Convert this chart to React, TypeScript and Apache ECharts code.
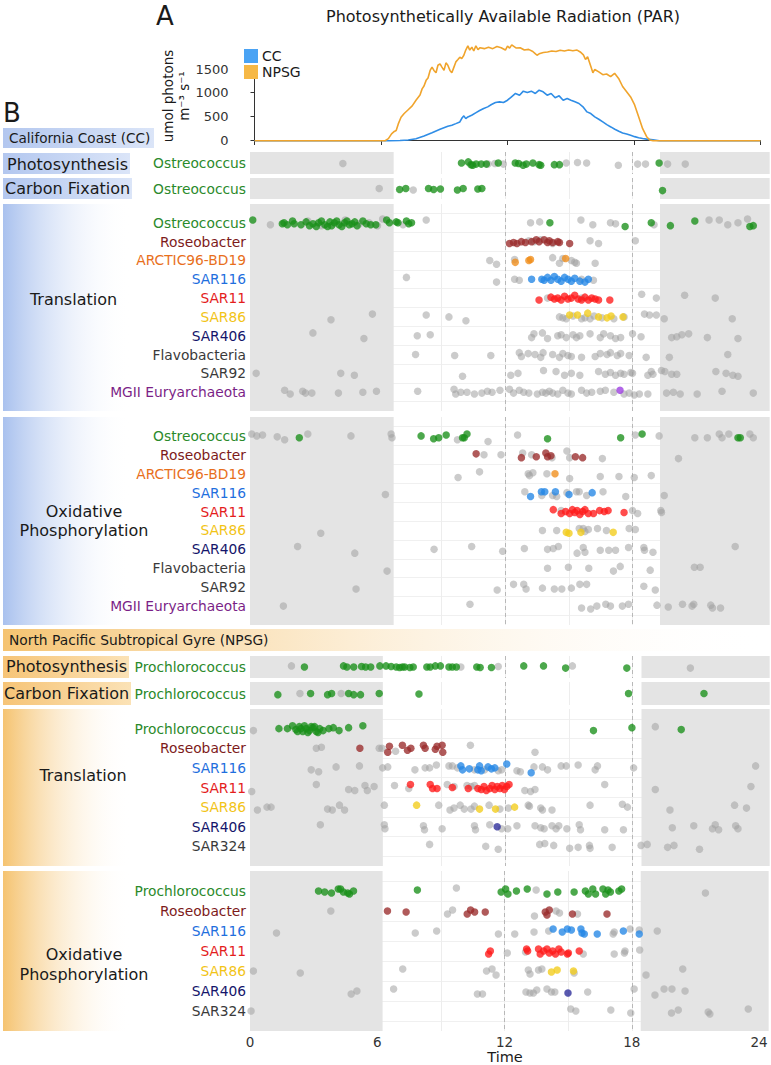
import React, { useEffect, useRef } from 'react';
import * as echarts from 'echarts';

const FONT = 'DejaVu Sans';

// ---------- PAR (hour, umol photons m-3 s-1) ----------
const parCC: number[][] = [[0,-15],[6.4,-15],[6.9,-10],[7.29,0],[7.66,28],[8.04,85],[8.42,155],[8.8,226],[9.17,290],[9.36,311],[9.55,346],[9.74,382],[9.85,470],[9.93,509],[10.02,452],[10.12,488],[10.3,523],[10.49,573],[10.68,622],[10.87,665],[11.06,700],[11.24,749],[11.43,792],[11.62,806],[11.81,792],[12.0,841],[12.19,912],[12.38,983],[12.57,947],[12.75,1032],[12.94,1004],[13.13,1032],[13.32,983],[13.5,1053],[13.69,1018],[13.88,947],[14.07,983],[14.26,891],[14.45,933],[14.64,841],[14.83,877],[15.01,841],[15.2,806],[15.39,771],[15.58,700],[15.77,594],[15.95,559],[16.14,488],[16.33,438],[16.52,382],[16.71,325],[16.9,276],[17.09,226],[17.28,184],[17.46,148],[17.65,127],[17.84,99],[18.03,71],[18.22,48],[18.41,32],[18.6,18],[18.9,5],[19.2,-15],[24,-15]];
const parNPSG: number[][] = [[0,-15],[6.2,-15],[6.35,30],[6.5,130],[6.63,180],[6.72,200],[6.82,340],[6.95,480],[7.1,560],[7.29,640],[7.48,720],[7.66,840],[7.85,950],[7.95,1080],[8.04,1140],[8.14,1260],[8.23,1310],[8.33,1470],[8.42,1540],[8.51,1470],[8.61,1420],[8.7,1580],[8.8,1610],[8.89,1540],[8.99,1470],[9.08,1630],[9.17,1580],[9.27,1470],[9.36,1420],[9.46,1540],[9.55,1650],[9.65,1700],[9.74,1750],[9.83,1720],[9.93,1790],[10.02,1900],[10.12,1990],[10.21,1900],[10.31,1960],[10.4,1880],[10.5,1990],[10.6,1910],[10.7,1950],[10.9,1930],[11.1,1960],[11.3,1930],[11.5,1975],[11.7,1950],[11.9,1900],[12.0,1985],[12.1,1940],[12.2,2010],[12.4,1945],[12.6,1950],[12.8,1900],[13.0,1915],[13.2,1870],[13.3,1830],[13.4,1790],[13.5,1820],[13.7,1850],[13.9,1860],[14.1,1880],[14.3,1870],[14.5,1895],[14.7,1880],[14.9,1900],[15.1,1885],[15.3,1900],[15.45,1860],[15.6,1800],[15.7,1700],[15.8,1760],[15.95,1560],[16.05,1420],[16.14,1490],[16.33,1440],[16.52,1380],[16.7,1395],[16.89,1340],[17.08,1410],[17.27,1300],[17.46,1130],[17.65,1020],[17.84,910],[18.03,740],[18.22,490],[18.41,240],[18.6,70],[18.75,0],[18.9,-15],[24,-15]];

// ---------- row names ----------
const ccRows = ['Ostreococcus','Roseobacter','ARCTIC96-BD19','SAR116','SAR11','SAR86','SAR406','Flavobacteria','SAR92','MGII Euryarchaeota'];
const ccLabelColors = ['#2b8a2b','#7d1b1b','#e86f1c','#1f6fde','#e41d1d','#f2c417','#15156b','#3a3a3a','#3a3a3a','#7b1f87'];
const ccDotColors = ['#1a8f1a','#9a2b2b','#f08d1a','#2486e6','#ff1a1a','#f2cc1a','#2a2a8f','#777777','#777777','#9b3be0'];
const npsgRows = ['Prochlorococcus','Roseobacter','SAR116','SAR11','SAR86','SAR406','SAR324'];
const npsgLabelColors = ['#2b8a2b','#7d1b1b','#1f6fde','#e41d1d','#f2c417','#15156b','#3a3a3a'];
const npsgDotColors = ['#1a8f1a','#9a2b2b','#2486e6','#ff1a1a','#f2cc1a','#2a2a99','#777777'];

// ---------- CC single-row panels [hour, jitter] ----------
const ccPhotoColored = [[9.95,0],[10.27,-0.1],[10.4,0.15],[10.48,0.2],[10.64,0.1],[10.88,0.1],[11.12,0.1],[11.68,0],[12.48,0],[12.64,0.05],[12.85,0.2],[13.0,0.1],[13.31,0],[13.6,0.15],[13.68,0.2],[14.32,0.15],[14.56,0.15],[19.25,0]];
const ccPhotoGray = [[4.37,0.05],[11.2,0.1],[11.52,0.05],[11.92,0.1],[14.88,0],[15.41,-0.05],[15.84,0],[17.33,0.2],[18.24,0.1],[18.61,0.1],[19.65,0.1],[20.48,0.1]];
const ccCarbonColored = [[7.04,0.1],[7.33,0],[8.4,0],[8.64,0.1],[8.96,0.05],[9.76,0.15],[10.03,0],[10.72,0.05],[10.91,0],[19.41,0.2]];
const ccCarbonGray = [[6.08,0],[7.68,0.15]];

// ---------- CC multi-row panels [hour, row, jitter] ----------
const ccTransColored = [
[0.13,0,-0.15],[1.52,0,0.05],[1.6,0,0],[1.76,0,0.1],[2.0,0,-0.1],[2.08,0,0.05],[2.4,0,0.1],[2.64,0,-0.05],[2.8,0,0.15],[2.96,0,0.05],[3.12,0,0.2],[3.23,0,0],[3.36,0,-0.1],[3.52,0,0.1],[3.65,0,0.2],[3.76,0,-0.05],[3.84,0,0.15],[3.97,0,0],[4.08,0,-0.1],[4.19,0,0.1],[4.32,0,0.2],[4.45,0,0],[4.56,0,-0.1],[4.67,0,0.1],[4.8,0,0.05],[4.93,0,-0.05],[5.04,0,0.15],[5.31,0,-0.1],[5.47,0,0.05],[5.68,0,0.1],[5.92,0,0.1],[6.43,0,-0.15],[6.56,0,0],[6.88,0,-0.05],[6.96,0,0],[7.36,0,-0.1],[7.47,0,0.05],[7.6,0,0],[14.11,0,0],[17.65,0,0.2],[18.88,0,0],[19.78,0,0.15],[20.93,0,-0.1],[23.52,0,0.2],[23.68,0,0.15],
[12.21,1,0.1],[12.4,1,0.05],[12.56,1,0.1],[12.77,1,0],[12.96,1,0.05],[13.25,1,0],[13.47,1,-0.1],[13.6,1,0],[13.84,1,-0.1],[14.0,1,0.05],[14.08,1,-0.05],[14.24,1,0.05],[14.48,1,0],[14.56,1,0.05],[15.04,1,0.1],
[12.48,2,0.1],[13.12,2,0],[13.2,2,-0.05],[14.85,2,-0.1],
[13.25,3,0],[13.73,3,0],[13.84,3,0.05],[14.0,3,-0.1],[14.16,3,0.05],[14.32,3,-0.15],[14.48,3,0],[14.64,3,0.1],[14.8,3,-0.1],[14.96,3,0],[15.12,3,0.1],[15.28,3,-0.05],[15.52,3,0.1],[15.76,3,0.15],[15.92,3,0],
[13.6,4,0.1],[14.16,4,-0.05],[14.32,4,0.05],[14.48,4,0],[14.64,4,0.1],[14.8,4,-0.1],[14.96,4,0.05],[15.12,4,0],[15.28,4,-0.15],[15.44,4,0.05],[15.6,4,0.1],[15.76,4,-0.05],[15.92,4,0.1],[16.08,4,0],[16.24,4,0.05],[16.4,4,0.1],[16.93,4,0.1],
[15.04,5,-0.1],[15.41,5,-0.1],[15.89,5,-0.2],[16.4,5,0],[16.8,5,0.05],[16.99,5,-0.05],[17.55,5,0],
[17.41,9,-0.1]];
const ccTransGray = [
[0.96,0,0.1],[2.72,0,-0.1],[3.36,0,0.15],[4.48,0,-0.15],[5.15,0,0.05],[5.6,0,0],[6.0,0,0.15],[6.24,0,-0.2],[7.2,0,0.1],[8.29,0,-0.15],[13.2,0,0],[13.63,0,-0.05],[15.57,0,-0.15],[16.13,0,0.1],[16.96,0,0],[17.2,0,0.05],[19.01,0,0.1],[21.6,0,-0.15],[22.08,0,-0.15],[22.48,0,0.1],[22.96,0,0],[23.41,0,-0.2],
[13.12,1,-0.05],[13.36,1,0],[13.68,1,-0.1],[14.24,1,0.1],[16.0,1,-0.05],[16.4,1,0.1],[18.13,1,-0.05],
[11.28,2,0],[11.6,2,0.2],[12.45,2,-0.05],[14.24,2,-0.15],[14.56,2,0.15],[14.72,2,-0.1],[15.12,2,0],[15.28,2,0.1],[15.36,2,0.15],[16.24,2,0.15],
[7.36,3,-0.1],[11.6,3,0.15],[12.45,3,0],[12.67,3,0.05],[15.6,3,0],[16.16,3,0.05],
[14.0,4,0],[15.6,4,0],[18.43,4,-0.2],[19.12,4,0],[20.45,4,-0.15],[21.89,4,0],
[3.81,5,0.15],[5.76,5,-0.15],[8.29,5,-0.1],[9.36,5,0],[10.16,5,0.2],[14.56,5,0],[14.72,5,0.05],[14.88,5,0.1],[15.2,5,-0.05],[15.6,5,0.1],[15.76,5,0.05],[16.0,5,0.1],[16.19,5,-0.05],[16.56,5,0.05],[17.12,5,0.1],[17.6,5,0],[18.56,5,-0.15],[18.8,5,-0.1],[19.12,5,-0.1],[19.49,5,0.1],[22.69,5,0.1],
[2.96,6,-0.15],[5.36,6,0.15],[7.87,6,0],[8.48,6,-0.05],[13.25,6,0.1],[13.36,6,-0.1],[13.76,6,-0.15],[14.0,6,0.15],[14.48,6,0],[14.64,6,-0.05],[14.88,6,0.1],[15.2,6,-0.05],[15.36,6,0.1],[15.52,6,0],[16.0,6,-0.1],[16.48,6,0.1],[16.64,6,-0.1],[16.96,6,0],[17.2,6,0.15],[17.44,6,0.1],[18.0,6,-0.1],[18.4,6,0.05],[19.84,6,0.1],[20.08,6,0.05],[20.32,6,-0.05],[20.64,6,-0.1],[21.52,6,0.1],[22.96,6,0.15],
[7.79,7,0],[9.63,7,0.05],[11.33,7,0.05],[12.67,7,-0.1],[12.77,7,0.1],[13.09,7,-0.05],[13.41,7,0],[13.68,7,0.15],[13.79,7,-0.1],[14.24,7,0],[14.56,7,0.15],[14.72,7,-0.05],[14.96,7,0.05],[15.12,7,0.1],[15.6,7,0.15],[16.24,7,0.1],[16.48,7,-0.05],[16.8,7,0],[16.96,7,-0.1],[17.28,7,0.05],[17.44,7,-0.05],[17.84,7,0.05],[18.64,7,0.15],[19.73,7,0.15],[22.48,7,0],
[0.29,8,0],[4.27,8,0],[4.91,8,0.1],[10.0,8,0.15],[12.27,8,0.1],[12.61,8,0],[13.81,8,-0.15],[14.4,8,-0.1],[14.8,8,0.1],[15.12,8,0],[15.52,8,0.1],[16.4,8,-0.1],[16.72,8,0.05],[16.96,8,-0.05],[17.2,8,0.1],[17.44,8,0],[17.6,8,0.05],[17.92,8,-0.05],[18.0,8,0],[18.72,8,0.1],[18.88,8,-0.1],[18.96,8,0.05],[19.36,8,-0.15],[19.52,8,-0.1],[19.84,8,0.05],[20.08,8,0.05],[21.92,8,-0.1],[22.4,8,0],[22.72,8,0.1],[22.96,8,0.15],
[1.63,9,-0.1],[1.89,9,0.1],[2.48,9,-0.05],[2.61,9,0.05],[2.91,9,0.05],[4.16,9,0.05],[5.31,9,0],[5.95,9,-0.05],[7.89,9,-0.05],[9.6,9,-0.15],[9.68,9,0.1],[9.92,9,0],[10.21,9,0],[10.56,9,0.1],[10.91,9,0.05],[11.17,9,-0.05],[11.39,9,0],[11.76,9,-0.1],[12.21,9,-0.15],[12.4,9,0.05],[12.67,9,-0.1],[12.88,9,0],[13.12,9,0.05],[13.52,9,0.1],[13.76,9,0],[13.92,9,0.05],[14.08,9,-0.05],[14.24,9,0.05],[14.48,9,0.1],[14.72,9,-0.1],[14.96,9,0.05],[15.12,9,0.1],[15.6,9,-0.1],[15.84,9,0.05],[16.08,9,0],[16.48,9,-0.05],[16.72,9,-0.1],[17.12,9,0],[17.6,9,0.1],[17.84,9,0.05],[18.08,9,0.15],[18.32,9,0.1],[18.72,9,0.1],[19.6,9,0.05],[19.92,9,0],[20.24,9,0.1],[21.04,9,0.1],[22.21,9,-0.05],[23.68,9,0.05]];

const ccOxColored = [
[2.32,0,0.1],[8.05,0,0],[8.64,0,0.15],[8.88,0,0.1],[9.23,0,-0.05],[10.0,0,0.1],[10.08,0,0.1],[10.21,0,-0.1],[14.0,0,0.15],[17.44,0,0.1],[18.45,0,-0.1],[22.96,0,0.1],[23.07,0,0.1],
[10.64,1,-0.05],[12.77,1,0.15],[13.47,1,0.1],[13.92,1,-0.1],[14.0,1,0.1],[14.16,1,0.05],[15.31,1,0.1],[15.65,1,0.15],
[14.35,2,0],
[13.2,3,0.2],[13.71,3,-0.05],[13.87,3,-0.05],[14.37,3,-0.05],[15.01,3,0.1],[16.1,3,0],
[14.27,4,-0.1],[14.64,4,0.1],[14.85,4,0],[15.04,4,0.1],[15.17,4,-0.1],[15.28,4,0.05],[15.39,4,-0.05],[15.52,4,0.15],[15.65,4,0],[15.76,4,-0.1],[15.92,4,0.1],[16.16,4,0.1],[16.45,4,-0.05],[16.67,4,0],[16.85,4,-0.05],[17.6,4,0.05],
[14.88,5,0.1],[15.01,5,0.15],[15.57,5,0.1],[17.09,5,0.1]];
const ccOxGray = [
[0.08,0,-0.1],[0.32,0,0],[0.59,0,-0.05],[1.28,0,0.05],[1.63,0,0.2],[2.72,0,-0.1],[4.75,0,0],[6.64,0,-0.1],[6.68,0,0.1],[9.76,0,0.2],[11.2,0,0.3],[12.59,0,-0.05],[18.13,0,-0.05],[19.25,0,0],[20.93,0,0.1],[21.52,0,0.1],[22.08,0,-0.1],[22.21,0,0.1],[22.53,0,-0.1],[23.52,0,-0.1],[23.68,0,0.1],
[11.01,1,0],[11.81,1,0],[12.83,1,-0.1],[13.25,1,0],[14.21,1,0.15],[14.91,1,-0.2],[15.04,1,0.15],[16.58,1,0.2],[20.16,1,0.2],
[9.79,2,0.2],[10.8,2,-0.1],[13.09,2,0],[13.15,2,0.1],[13.31,2,-0.05],[13.97,2,0],[15.04,2,0.25],[16.48,2,0.15],[17.36,2,0.15],[18.08,2,0.2],[18.88,2,0.1],
[6.37,3,0.1],[12.93,3,-0.05],[13.73,3,0.15],[14.24,3,0.15],[14.43,3,0.2],[14.91,3,0],[15.36,3,-0.05],[15.49,3,-0.05],[15.84,3,0.15],[16.61,3,-0.05],[17.68,3,0.2],[19.49,3,0.15],
[14.64,4,-0.05],[18.0,4,-0.05],[18.24,4,0.1],[19.33,4,-0.05],[19.36,4,0.05],
[3.33,5,0.15],[13.76,5,0],[14.43,5,0],[15.49,5,-0.1],[15.68,5,-0.1],[15.76,5,0.05],[15.92,5,-0.05],[16.35,5,-0.1],[16.77,5,0],[17.84,5,-0.1],[18.13,5,-0.05],
[2.24,6,-0.15],[4.93,6,0.2],[8.66,6,0],[10.43,6,-0.15],[11.89,6,0.1],[12.91,6,-0.05],[14.0,6,0],[14.27,6,-0.05],[14.51,6,-0.15],[15.39,6,0.2],[15.68,6,-0.1],[15.76,6,0.15],[16.48,6,0.05],[16.88,6,0.05],[17.2,6,0.05],[17.81,6,-0.1],[18.53,6,-0.1],[18.56,6,0.05],[18.96,6,0.15],[22.83,6,-0.15],
[6.45,7,0.15],[14.0,7,0],[14.98,7,-0.05],[15.94,7,0],[17.1,7,0.15],[17.42,7,-0.1],[18.83,7,0.1],[20.91,7,-0.05],[21.18,7,-0.05],
[4.99,8,0.1],[11.63,8,0.15],[12.4,8,-0.15],[12.88,8,-0.15],[12.99,8,0.1],[13.76,8,0.05],[14.32,8,0.1],[14.67,8,0.1],[15.12,8,0.05],[15.52,8,-0.15],[15.84,8,-0.15],[18.53,8,-0.05],[19.07,8,0.15],
[1.57,9,0],[10.35,9,-0.1],[15.6,9,0.1],[16.03,9,0.15],[16.32,9,0],[16.74,9,-0.1],[16.96,9,0],[17.52,9,0],[17.81,9,-0.1],[19.15,9,-0.05],[19.68,9,0.05],[20.35,9,-0.1],[20.8,9,0],[20.88,9,-0.1],[21.68,9,-0.05],[21.76,9,0.1],[22.14,9,0.1]];

// ---------- NPSG single-row panels [hour, jitter] ----------
const npsgPhotoColored = [[2.56,0],[4.4,-0.1],[4.56,0],[4.88,0],[5.25,-0.05],[5.44,0],[5.68,0],[6.11,-0.1],[6.4,-0.1],[6.64,-0.05],[6.88,0],[7.04,0.05],[7.17,0],[7.28,0],[7.52,0.05],[7.68,0],[8.32,0],[8.48,0],[8.72,-0.1],[8.96,-0.1],[9.36,0],[9.52,0],[9.71,0],[10.67,0],[10.83,0.05],[11.36,0.05],[12.88,-0.1],[13.81,-0.1],[14.85,0.1],[17.73,0.1]];
const npsgPhotoGray = [[1.95,-0.1],[9.92,0],[11.68,-0.05],[15.17,-0.1],[20.72,0.1]];
const npsgCarbonColored = [[1.31,0.1],[2.85,0],[3.65,0.1],[3.84,0],[4.64,0],[4.88,0.1],[5.2,0.1],[6.08,0],[7.95,0.05],[17.81,0],[21.36,0]];
const npsgCarbonGray = [[2.35,0],[4.29,0]];

// ---------- NPSG multi-row panels [hour, row, jitter] ----------
const npsgTransColored = [
[1.36,0,0],[1.76,0,0],[2.0,0,-0.15],[2.16,0,0.05],[2.24,0,0.15],[2.32,0,-0.1],[2.4,0,0],[2.48,0,0.15],[2.56,0,-0.15],[2.64,0,0],[2.72,0,0.2],[2.8,0,0.1],[2.88,0,-0.1],[2.96,0,-0.05],[3.04,0,-0.1],[3.12,0,0.15],[3.2,0,0.2],[3.28,0,0],[3.44,0,0.1],[3.71,0,0],[3.92,0,-0.05],[4.19,0,0.1],[4.64,0,-0.05],[5.31,0,-0.15],[16.16,0,0.1],[17.97,0,-0.05],[20.29,0,0.05],
[5.17,1,0],[6.48,1,0.2],[6.56,1,-0.1],[7.17,1,-0.15],[7.41,1,0.1],[7.57,1,0],[8.16,1,-0.15],[8.24,1,0],[8.72,1,0.05],[8.8,1,-0.1],[9.04,1,-0.15],[9.07,1,0.2],
[9.92,2,-0.1],[10.0,2,0.1],[10.32,2,0.05],[10.72,2,0.1],[10.8,2,-0.1],[10.88,2,0.15],[11.2,2,-0.05],[11.36,2,0.05],[11.52,2,0],[12.08,2,-0.2],[13.23,2,0.25],
[7.55,3,-0.15],[8.48,3,-0.15],[8.59,3,0.05],[8.8,3,0.05],[9.52,3,0],[10.27,3,0.05],[10.72,3,0.05],[10.88,3,0.1],[11.01,3,-0.05],[11.12,3,0.15],[11.28,3,0.05],[11.39,3,-0.1],[11.52,3,0.1],[11.63,3,-0.05],[11.76,3,0.05],[11.87,3,-0.1],[11.97,3,0.1],[12.08,3,-0.05],[12.19,3,-0.15],
[7.84,4,-0.1],[10.8,4,0.1],[11.55,4,0.1],[12.45,4,0],
[11.63,5,0]];
const npsgTransGray = [
[0.16,0,0.1],[19.07,0,-0.1],
[3.12,1,0],[3.36,1,-0.05],[6.08,1,0],[6.21,1,0],[6.85,1,0.15],[10.37,1,-0.15],[13.41,1,0.2],
[2.88,2,0.1],[3.23,2,0.2],[4.05,2,-0.05],[5.15,2,-0.1],[6.24,2,0],[6.48,2,-0.05],[7.76,2,0.1],[8.24,2,0],[8.45,2,0],[8.77,2,-0.15],[9.36,2,-0.1],[9.52,2,-0.1],[9.76,2,0],[10.56,2,0.1],[11.04,2,0.1],[11.68,2,0.15],[11.84,2,0.1],[12.56,2,0.15],[12.72,2,0.2],[13.36,2,-0.05],[13.76,2,-0.05],[14.0,2,0.1],[14.64,2,-0.1],[14.88,2,-0.1],[15.44,2,-0.15],[16.24,2,0.1],[16.35,2,-0.1],[18.05,2,0],[23.79,2,-0.1],
[0.08,3,0.2],[3.12,3,-0.15],[4.64,3,0.1],[4.93,3,0.15],[5.41,3,-0.1],[5.52,3,0.15],[5.84,3,-0.05],[6.8,3,-0.1],[7.47,3,0.05],[9.28,3,-0.15],[9.6,3,-0.05],[10.21,3,-0.1],[10.4,3,-0.05],[10.56,3,-0.1],[12.93,3,0.15],[13.2,3,0.2],[13.41,3,0.1],[16.69,3,-0.15],[19.07,3,0.1],[23.57,3,-0.05],
[0.35,4,0.15],[0.8,4,0],[0.99,4,0],[3.65,4,0.1],[3.87,4,0.15],[4.21,4,-0.1],[4.45,4,0.15],[6.32,4,-0.1],[8.88,4,-0.1],[9.41,4,0.15],[9.6,4,0.05],[9.89,4,-0.1],[10.08,4,0.1],[10.4,4,0.1],[10.56,4,-0.05],[11.25,4,-0.1],[11.76,4,0.1],[12.16,4,0.05],[13.09,4,-0.1],[13.15,4,-0.05],[13.68,4,0.05],[13.76,4,0.15],[14.21,4,0.15],[16.0,4,-0.1],[17.52,4,-0.15],[17.76,4,0],[19.76,4,0.15],[22.8,4,-0.1],[23.36,4,0.05],
[3.31,5,-0.1],[6.32,5,-0.1],[6.35,5,0.1],[8.16,5,-0.05],[8.21,5,0.15],[9.04,5,0.1],[10.56,5,-0.05],[10.61,5,0.15],[11.28,5,-0.1],[11.84,5,0.1],[12.13,5,0.1],[12.56,5,-0.05],[13.41,5,-0.05],[13.68,5,0.05],[13.84,5,0.1],[14.21,5,-0.05],[14.4,5,0.1],[14.53,5,-0.05],[14.91,5,0.1],[15.49,5,-0.1],[15.55,5,0.15],[16.69,5,0.15],[17.57,5,0.15],[19.87,5,0.05],[20.88,5,-0.05],[21.76,5,0.1],[21.89,5,-0.1],[22.05,5,0.15],[22.85,5,-0.05],[22.96,5,0.1],
[8.45,6,-0.1],[11.09,6,0],[11.68,6,0.15],[13.63,6,-0.1],[13.87,6,-0.15],[14.29,6,-0.05],[15.04,6,0.1],[15.44,6,0.05],[15.97,6,-0.05],[16.0,6,0.1],[17.04,6,0.05],[18.4,6,-0.05],[18.69,6,-0.1],[19.65,6,0.05],[19.95,6,-0.05],[21.15,6,0.15]];

const npsgOxColored = [
[3.23,0,0],[3.52,0,0.05],[3.84,0,0.1],[4.16,0,-0.1],[4.27,0,-0.1],[4.4,0,0.05],[4.61,0,0.1],[4.69,0,0.15],[4.88,0,0],[7.89,0,-0.05],[11.84,0,0.05],[12.05,0,-0.1],[12.16,0,0.15],[12.56,0,0],[13.07,0,-0.1],[14.0,0,0.15],[14.51,0,0.05],[15.28,0,0.05],[15.81,0,0],[15.95,0,0.15],[16.16,0,-0.1],[16.29,0,0.15],[16.64,0,-0.1],[16.77,0,0.15],[16.88,0,-0.05],[16.99,0,0.05],[17.39,0,0],[17.52,0,-0.1],
[6.48,1,0],[7.36,1,0.05],[10.24,1,0.15],[10.4,1,-0.05],[10.59,1,0.05],[11.09,1,0.05],[13.92,1,0.05],[14.0,1,0.2],[14.11,1,-0.05],[15.2,1,0.15],[16.83,1,0.15],
[14.29,2,-0.1],[14.72,2,0.05],[14.96,2,-0.1],[15.15,2,-0.05],[15.6,2,-0.1],[15.65,2,0.1],[15.76,2,0.15],[16.37,2,0.15],[17.6,2,0],[18.35,2,0.15],
[11.25,3,0.15],[11.33,3,0],[13.04,3,-0.1],[13.09,3,0],[13.6,3,-0.1],[13.68,3,0.15],[13.84,3,0],[14.0,3,-0.1],[14.11,3,0.1],[14.27,3,0],[14.4,3,0.15],[14.56,3,-0.1],[14.67,3,0.05],[14.96,3,0.15],[15.01,3,0.1],[15.52,3,0],
[14.21,4,0.05],[14.48,4,-0.05],[15.25,4,0],
[14.99,5,0.1]];
const npsgOxGray = [
[9.73,0,-0.15],[13.49,0,-0.05],[21.47,0,0.1],
[3.81,1,0],[9.31,1,0.15],[9.55,1,-0.05],[13.41,1,0.25],[14.43,1,0],[14.59,1,0.1],[15.44,1,0.15],
[1.25,2,0.1],[7.79,2,0.1],[8.8,2,0],[11.71,2,0.15],[12.48,2,0.15],[13.39,2,0.05],[14.08,2,0],[17.12,2,0.15],[17.17,2,0.05],[17.92,2,-0.1],[18.35,2,-0.05],[19.2,2,0],
[12.13,3,0.1],[12.99,3,0.05],[15.71,3,0.15],[17.17,3,0.15],[17.65,3,0.1],[17.68,3,0],[18.37,3,-0.05],
[0.16,4,0],[2.37,4,0.1],[7.2,4,-0.1],[11.15,4,0],[11.41,4,-0.1],[11.6,4,0.2],[13.12,4,-0.05],[13.2,4,0.15],[13.6,4,-0.05],[13.76,4,-0.1],[15.28,4,0.1],[18.67,4,0.2],[20.4,4,-0.1],
[4.77,5,0.15],[5.04,5,0],[6.77,5,-0.1],[10.72,5,0.15],[10.96,5,0.15],[13.01,5,0.05],[13.2,5,0.1],[13.36,5,0.1],[13.52,5,-0.05],[14.0,5,-0.1],[14.21,5,0.05],[14.37,5,0.05],[15.92,5,0.05],[18.11,5,-0.1],[19.09,5,0.2],[19.52,5,-0.1],[19.89,5,-0.1],[20.51,5,0],
[0.05,6,0],[15.12,6,-0.1],[15.36,6,0],[17.01,6,-0.05],[17.95,6,0.1],[19.87,6,0.1],[20.19,6,-0.05],[21.6,6,0.05],[21.68,6,0.15],[23.49,6,-0.1]];

// night (grey) spans, hours
const ccNight = [6.76, 19.29];
const npsgNight = [6.25, 18.42];
const sunMarks = [12, 18];
const timeTicks = [0, 6, 12, 18, 24];

const XMAX = 24.42;

export default function App() {
  const ref = useRef<HTMLDivElement>(null);
  useEffect(() => {
    const chart = echarts.init(ref.current!, null, { renderer: 'svg' });

    const panels = [
      { top: 152, height: 22, rows: ['Ostreococcus'], lc: [ccLabelColors[0]], dc: [ccDotColors[0]], col: ccPhotoColored.map(d => [d[0], 0, d[1]]), gray: ccPhotoGray.map(d => [d[0], 0, d[1]]), night: ccNight },
      { top: 178, height: 21, rows: ['Ostreococcus'], lc: [ccLabelColors[0]], dc: [ccDotColors[0]], col: ccCarbonColored.map(d => [d[0], 0, d[1]]), gray: ccCarbonGray.map(d => [d[0], 0, d[1]]), night: ccNight },
      { top: 204, height: 207, rows: ccRows, lc: ccLabelColors, dc: ccDotColors, col: ccTransColored, gray: ccTransGray, night: ccNight },
      { top: 417, height: 208, rows: ccRows, lc: ccLabelColors, dc: ccDotColors, col: ccOxColored, gray: ccOxGray, night: ccNight },
      { top: 656, height: 22, rows: ['Prochlorococcus'], lc: [npsgLabelColors[0]], dc: [npsgDotColors[0]], col: npsgPhotoColored.map(d => [d[0], 0, d[1]]), gray: npsgPhotoGray.map(d => [d[0], 0, d[1]]), night: npsgNight },
      { top: 682, height: 23, rows: ['Prochlorococcus'], lc: [npsgLabelColors[0]], dc: [npsgDotColors[0]], col: npsgCarbonColored.map(d => [d[0], 0, d[1]]), gray: npsgCarbonGray.map(d => [d[0], 0, d[1]]), night: npsgNight },
      { top: 709, height: 157, rows: npsgRows, lc: npsgLabelColors, dc: npsgDotColors, col: npsgTransColored, gray: npsgTransGray, night: npsgNight },
      { top: 871, height: 160, rows: npsgRows, lc: npsgLabelColors, dc: npsgDotColors, col: npsgOxColored, gray: npsgOxGray, night: npsgNight },
    ];

    const grids: any[] = [{ left: 254.5, top: 69, width: 506, height: 71 }];
    const xAxes: any[] = [{
      type: 'value', gridIndex: 0, min: 0, max: 24, interval: 6, offset: 3,
      axisLine: { show: true, lineStyle: { color: '#333', width: 1 } },
      axisTick: { show: true, length: 5, lineStyle: { color: '#333' } },
      axisLabel: { show: false }, splitLine: { show: false },
    }];
    const yAxes: any[] = [{
      type: 'value', gridIndex: 0, min: 0, max: 1500, interval: 500, offset: 18,
      axisLine: { show: true, lineStyle: { color: '#333', width: 1 } },
      axisTick: { show: true, length: 4, lineStyle: { color: '#333' } },
      axisLabel: { fontSize: 13, fontFamily: FONT, color: '#333', margin: 8, formatter: (v: number) => String(v) },
      splitLine: { show: false },
    }];
    const series: any[] = [
      { name: 'CC', type: 'line', xAxisIndex: 0, yAxisIndex: 0, data: parCC, symbol: 'none', clip: false, lineStyle: { color: '#2f8de6', width: 1.6 }, itemStyle: { color: '#2f8de6' } },
      { name: 'NPSG', type: 'line', xAxisIndex: 0, yAxisIndex: 0, data: parNPSG, symbol: 'none', clip: false, lineStyle: { color: '#f0a42c', width: 1.6 }, itemStyle: { color: '#f0a42c' } },
    ];

    panels.forEach((p, k) => {
      const gi = k + 1;
      const last = k === panels.length - 1;
      const multi = p.rows.length > 1;
      grids.push({ left: 250, top: p.top, width: 519, height: p.height });
      xAxes.push({
        type: 'value', gridIndex: gi, min: 0, max: XMAX, interval: 3,
        axisLine: { show: false }, axisTick: { show: false },
        axisLabel: {
          show: last, fontSize: 13.5, fontFamily: FONT, color: '#333', margin: 4,
          formatter: (v: number) => (timeTicks.indexOf(v) >= 0 ? String(v) : ''),
        },
        splitLine: { show: true, lineStyle: { color: '#ededed', width: 1 } },
      });
      const rich: any = {};
      p.rows.forEach((_, i) => { rich['r' + i] = { color: p.lc[i], fontSize: 13.8, fontFamily: FONT }; });
      yAxes.push({
        type: 'value', gridIndex: gi, min: -1, max: multi ? p.rows.length : 1, interval: 1, inverse: true,
        axisLine: { show: false }, axisTick: { show: false },
        splitLine: { show: false },
        minorTick: { show: false, splitNumber: 2 },
        minorSplitLine: { show: multi, lineStyle: { color: '#f0f0f0', width: 1 } },
        axisLabel: {
          margin: 4, fontSize: 13.8, fontFamily: FONT,
          formatter: (v: number) => {
            const i = Math.round(v);
            if (Math.abs(v - i) > 1e-6 || i < 0 || i >= p.rows.length) return '';
            return '{r' + i + '|' + p.rows[i] + '}';
          },
          rich,
        },
      });
      series.push({
        type: 'scatter', xAxisIndex: gi, yAxisIndex: gi, symbolSize: 7.5, silent: true,
        data: p.gray.map(d => [d[0], d[1] + d[2]]),
        itemStyle: { color: '#a0a0a0', opacity: 0.55 },
        markArea: {
          silent: true, z: 1, label: { show: false },
          itemStyle: { color: '#e4e4e4' },
          data: [[{ xAxis: 0 }, { xAxis: p.night[0] }], [{ xAxis: p.night[1] }, { xAxis: XMAX }]],
        },
        markLine: {
          silent: true, z: 1, symbol: ['none', 'none'], label: { show: false },
          lineStyle: { type: [4, 3], color: '#b8b8b8', width: 1 },
          data: sunMarks.map(h => ({ xAxis: h })),
        },
      });
      series.push({
        type: 'scatter', xAxisIndex: gi, yAxisIndex: gi, symbolSize: 7.5, silent: true,
        data: p.col.map(d => ({ value: [d[0], d[1] + d[2]], itemStyle: { color: p.dc[d[1]], opacity: 0.78 } })),
      });
    });

    const grad = (c0: string, c1: string) => ({
      type: 'linear', x: 0, y: 0, x2: 1, y2: 0,
      colorStops: [{ offset: 0, color: c0 }, { offset: 1, color: c1 }],
    });
    const txt = (text: string, x: number, y: number, size: number, align = 'left', extra: any = {}) => ({
      type: 'text', x, y, ...extra,
      style: { text, fontSize: size, fontFamily: FONT, fill: '#1a1a1a', align, verticalAlign: 'middle' },
    });
    const box = (x: number, y: number, w: number, h: number, fill: any) => ({
      type: 'rect', shape: { x, y, width: w, height: h }, style: { fill }, silent: true,
    });
    const blueHead = grad('#b3c7ef', '#dbe5f8');
    const blueFade = grad('#a9c1ee', 'rgba(255,255,255,0)');
    const orangeHead = grad('#f6c477', '#fbe2b6');
    const orangeFade = grad('#f5c370', 'rgba(255,255,255,0)');

    const graphic: any[] = [
      txt('A', 165, 16, 26, 'center'),
      txt('Photosynthetically Available Radiation (PAR)', 503, 16, 16, 'center'),
      txt('B', 12, 113, 26, 'center'),
      txt('umol photons', 168, 96, 13.5, 'center', { rotation: Math.PI / 2 }),
      txt('m\u207B\u00B3 s\u207B\u00B9', 184, 96, 13.5, 'center', { rotation: Math.PI / 2 }),
      box(3, 128, 151, 20, blueHead), txt('California Coast (CC)', 9, 138, 13.6),
      box(3, 153, 127, 21, blueHead), txt('Photosynthesis', 7, 164, 16),
      box(3, 178, 129, 21, blueHead), txt('Carbon Fixation', 5, 188.5, 16),
      box(3, 204, 128, 207, blueFade), txt('Translation', 73.5, 299, 16, 'center'),
      box(3, 417, 128, 208, blueFade), txt('Oxidative', 84, 511, 16, 'center'), txt('Phosphorylation', 84, 530, 16, 'center'),
      box(3, 629, 765, 22, orangeFade), txt('North Pacific Subtropical Gyre (NPSG)', 9, 640, 13.8),
      box(3, 656, 126, 22, orangeHead), txt('Photosynthesis', 6, 666, 16),
      box(3, 682, 128, 23, orangeHead), txt('Carbon Fixation', 4, 693.5, 16),
      box(3, 709, 128, 157, orangeFade), txt('Translation', 83, 775, 16, 'center'),
      box(3, 871, 128, 160, orangeFade), txt('Oxidative', 84, 954, 16, 'center'), txt('Phosphorylation', 84, 974, 16, 'center'),
      txt('Time', 505, 1056.5, 14.5, 'center'),
    ];

    chart.setOption({
      animation: false,
      grid: grids,
      xAxis: xAxes,
      yAxis: yAxes,
      series,
      legend: {
        data: [{ name: 'CC', itemStyle: { color: '#4aa3f4' } }, { name: 'NPSG', itemStyle: { color: '#f6b846' } }],
        icon: 'rect', orient: 'vertical', left: 244, top: 49, itemWidth: 14, itemHeight: 14, itemGap: 2, padding: 0,
        textStyle: { fontSize: 14, fontFamily: FONT, color: '#1a1a1a', padding: [0, 0, 0, -1] },
        selectedMode: false,
      },
      graphic,
    });
    return () => chart.dispose();
  }, []);
  return <div ref={ref} style={{ position: 'absolute', left: 0, top: 0, width: 771, height: 1065 }} />;
}
